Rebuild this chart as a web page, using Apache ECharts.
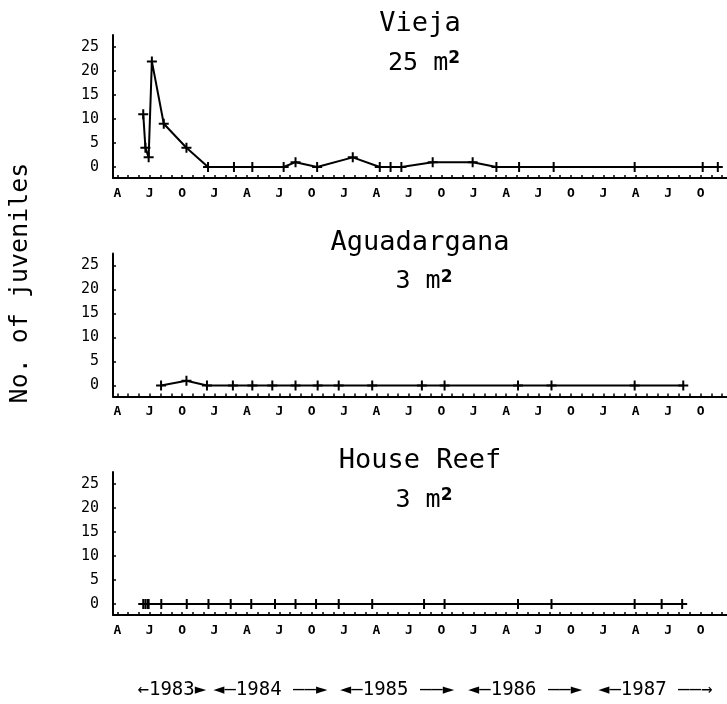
<!DOCTYPE html>
<html>
<head>
<meta charset="utf-8">
<script src="https://cdn.jsdelivr.net/npm/echarts@6/dist/echarts.min.js"></script>
<style>
  html, body { margin: 0; padding: 0; background: #fff; }
  #main { width: 727px; height: 704px; }
</style>
</head>
<body>
<div id="main"></div>
<script>
// x values are months counted from 1 April 1983
var quarterMonths = [0, 3, 6, 9, 12, 15, 18, 21, 24, 27, 30, 33, 36, 39, 42, 45, 48, 51, 54];
var quarterLetters = ['A','J','O','J','A','J','O','J','A','J','O','J','A','J','O','J','A','J','O'];
var yTicks = [0, 5, 10, 15, 20, 25];

var yearLabels = ['\u21901983\u25BA', '\u25C4\u20141984 \u2014\u2014\u25BA', '\u25C4\u20141985 \u2014\u2014\u25BA', '\u25C4\u20141986 \u2014\u2014\u25BA', '\u25C4\u20141987 \u2014\u2014\u2192'];
var yearLabelAt = [5.05, 14.15, 25.9, 37.75, 49.8];

// Vieja, 25 m2
var viejaMonths = [2.4, 2.6, 2.9, 3.2, 4.3, 6.4, 8.4, 10.8, 12.5, 15.4, 16.5, 18.5, 21.8, 24.3, 25.3, 26.3, 29.2, 32.9, 35.1, 37.2, 40.4, 47.9, 54.2, 55.6];
var viejaCounts = [11, 4, 2, 22, 9, 4, 0, 0, 0, 0, 1, 0, 2, 0, 0, 0, 1, 1, 0, 0, 0, 0, 0, 0];

// Aguadargana, 3 m2
var aguaMonths = [4.05, 6.4, 8.3, 10.7, 12.5, 14.35, 16.5, 18.55, 20.5, 23.6, 28.2, 30.3, 37.1, 40.2, 47.9, 52.4];
var aguaCounts = [0, 1, 0, 0, 0, 0, 0, 0, 0, 0, 0, 0, 0, 0, 0, 0];

// House Reef, 3 m2
var houseMonths = [2.4, 2.6, 2.8, 2.9, 4.07, 6.43, 8.44, 10.5, 12.4, 14.6, 16.5, 18.4, 20.5, 23.6, 28.4, 30.3, 37.1, 40.2, 47.9, 50.4, 52.3];
var houseCounts = [0, 0, 0, 0, 0, 0, 0, 0, 0, 0, 0, 0, 0, 0, 0, 0, 0, 0, 0, 0, 0];

var panels = [
    { name: 'Vieja', area: '25', months: viejaMonths, counts: viejaCounts },
    { name: 'Aguadargana', area: '3', months: aguaMonths, counts: aguaCounts },
    { name: 'House Reef', area: '3', months: houseMonths, counts: houseCounts }
];

var tickMonths = [];
for (var t = 0; t <= 56; t++) tickMonths.push(t);

var mono = '"DejaVu Sans Mono", monospace';
var plusSymbol = 'path://M4,0h2v4h4v2h-4v4h-2v-4h-4v-2h4z';

var myChart = echarts.init(document.getElementById('main'));

var grids = [], xAxes = [], yAxes = [], series = [], graphics = [];
panels.forEach(function (p, k) {
    var top = 35 + 218.5 * k;
    grids.push({ left: 113, right: 0, top: top, height: 143 });
    xAxes.push({
        type: 'value', gridIndex: k, min: -0.4, max: 56.45, position: 'bottom',
        axisLine: { show: true, onZero: false, lineStyle: { color: '#000', width: 2 } },
        axisTick: { show: true, inside: true, length: 3, customValues: tickMonths, lineStyle: { color: '#000', width: 1.5 } },
        axisLabel: {
            customValues: quarterMonths, margin: 9, color: '#000',
            fontFamily: mono, fontSize: 13, fontWeight: 'bold',
            formatter: function (v) { return quarterLetters[quarterMonths.indexOf(v)]; }
        },
        splitLine: { show: false }
    });
    yAxes.push({
        type: 'value', gridIndex: k, min: -2.3, max: 27.5, position: 'left',
        axisLine: { show: true, onZero: false, lineStyle: { color: '#000', width: 2 } },
        axisTick: { show: true, inside: true, length: 3, customValues: yTicks, lineStyle: { color: '#000', width: 1.5 } },
        axisLabel: { customValues: yTicks, margin: 14, color: '#000', fontFamily: mono, fontSize: 15 },
        splitLine: { show: false }
    });
    series.push({
        type: 'line', xAxisIndex: k, yAxisIndex: k,
        data: p.months.map(function (m, i) { return [m, p.counts[i]]; }),
        symbol: plusSymbol, symbolSize: [10, 10],
        itemStyle: { color: '#000' },
        lineStyle: { color: '#000', width: 2 },
        emphasis: { disabled: true }
    });
    graphics.push({
        type: 'text', x: 420, y: top - 11,
        style: { text: p.name, align: 'center', verticalAlign: 'middle', fontFamily: mono, fontSize: 27, fill: '#000' }
    });
    graphics.push({
        type: 'text', x: 424, y: top + 28,
        style: {
            text: p.area + ' m{s|2}', align: 'center', verticalAlign: 'middle',
            fontFamily: mono, fontSize: 25, fill: '#000',
            rich: { s: { fontFamily: 'DejaVu Sans', fontSize: 17, fontWeight: 'bold', verticalAlign: 'top', fill: '#000' } }
        }
    });
});

// y-axis title shared by the three panels
graphics.push({
    type: 'text', x: 20, y: 283, rotation: Math.PI / 2,
    style: { text: 'No. of juveniles', align: 'center', verticalAlign: 'middle', fontFamily: mono, fontSize: 25, fill: '#000' }
});

// year bands under the last panel
xAxes.push({
    type: 'value', gridIndex: 2, min: -0.4, max: 56.45, position: 'bottom',
    axisLine: { show: false, onZero: false }, axisTick: { show: false }, splitLine: { show: false },
    axisLabel: {
        customValues: yearLabelAt, margin: 66, color: '#000',
        fontFamily: mono, fontSize: 19,
        formatter: function (v) { return yearLabels[yearLabelAt.indexOf(v)]; }
    }
});

var option = {
    animation: false,
    backgroundColor: '#fff',
    grid: grids,
    xAxis: xAxes,
    yAxis: yAxes,
    series: series,
    graphic: graphics
};

myChart.setOption(option);
</script>
</body>
</html>
